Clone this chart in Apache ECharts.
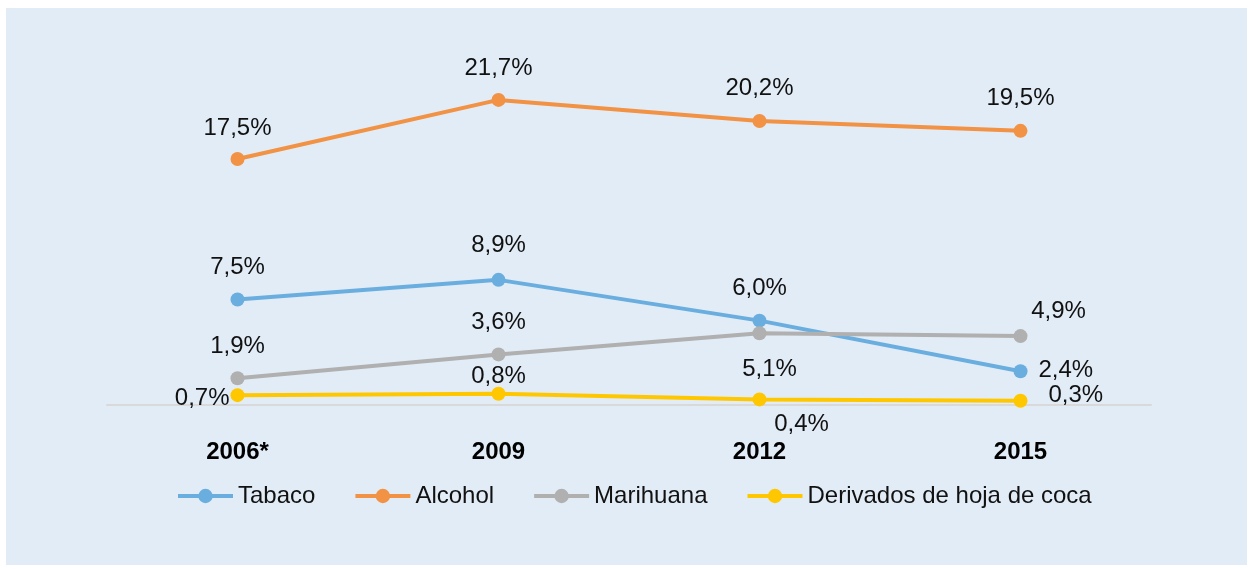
<!DOCTYPE html>
<html>
<head>
<meta charset="utf-8">
<script src="https://cdn.jsdelivr.net/npm/echarts@6/dist/echarts.min.js"></script>
<style>
  html, body { margin: 0; padding: 0; background: #fff; }
  .panel {
    position: absolute; left: 6px; top: 8px; width: 1241px; height: 557px;
    background: #e2ecf6;
  }
  #chart { position: absolute; left: 0; top: 0; width: 1253px; height: 569px; }
</style>
</head>
<body>
<div class="panel"></div>
<div id="chart"></div>
<script>
const years = ['2006*', '2009', '2012', '2015']
const tabaco = [7.5, 8.9, 6.0, 2.4]
const alcohol = [17.5, 21.7, 20.2, 19.5]
const marihuana = [1.9, 3.6, 5.1, 4.9]
const coca = [0.7, 0.8, 0.4, 0.3]

// where each point's label sits
const labelPlacement = {
  tabaco: [['top'], ['top', [0, -2]], ['top'], ['right', [-2, -1]]],
  alcohol: [['top', [0, 1]], ['top'], ['top', [0, -1]], ['top']],
  marihuana: [['top'], ['top'], ['bottom', [10, 4]], ['top', [38, 7]]],
  coca: [['left', [12, 3]], ['top', [0, 15]], ['bottom', [42, -7]], ['right', [8, -5]]]
}

const FONT = 'Liberation Sans, Arial, sans-serif'
const fmt = v => v.toFixed(1).replace('.', ',') + '%'

const buildData = (values, key) => values.map((v, i) => {
  const [position, offset] = labelPlacement[key][i]
  return { value: v, label: { position, offset: offset || [0, 0] } }
})

const makeSeries = (name, values, key, color) => ({
  name,
  type: 'line',
  data: buildData(values, key),
  symbol: 'circle',
  symbolSize: 14,
  lineStyle: { width: 4, color },
  itemStyle: { color },
  label: {
    show: true,
    distance: 13,
    formatter: p => fmt(p.value),
    color: '#111',
    fontSize: 24,
    fontFamily: FONT
  }
})

const chart = echarts.init(document.getElementById('chart'))
chart.setOption({
  backgroundColor: 'transparent',
  animation: false,
  grid: { left: 107, right: 102, top: 53.5, bottom: 164 },
  xAxis: {
    type: 'category',
    data: years,
    boundaryGap: true,
    axisTick: { show: false },
    axisLine: { lineStyle: { color: '#d9d9d9', width: 2 } },
    axisLabel: {
      margin: 35,
      color: '#000',
      fontSize: 24,
      fontWeight: 'bold',
      fontFamily: FONT
    }
  },
  yAxis: {
    type: 'value',
    min: 0,
    max: 25,
    show: false,
    splitLine: { show: false }
  },
  legend: {
    top: 479,
    left: 171,
    itemWidth: 55,
    itemHeight: 18,
    itemGap: 38,
    lineStyle: { width: 4 },
    textStyle: {
      color: '#111',
      fontSize: 24,
      fontFamily: FONT
    }
  },
  series: [
    makeSeries('Tabaco', tabaco, 'tabaco', '#6aaee0'),
    makeSeries('Alcohol', alcohol, 'alcohol', '#f29244'),
    makeSeries('Marihuana', marihuana, 'marihuana', '#b0b0b0'),
    makeSeries('Derivados de hoja de coca', coca, 'coca', '#ffc700')
  ]
})
</script>
</body>
</html>
